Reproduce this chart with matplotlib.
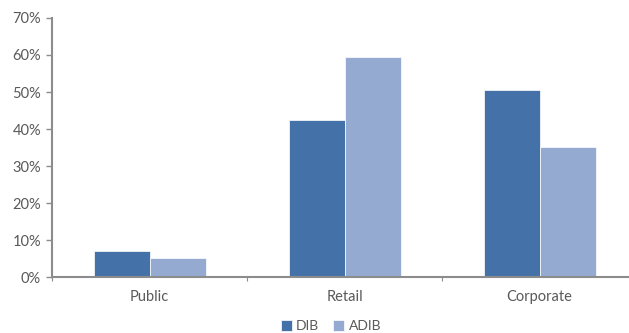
import numpy as np
import matplotlib.pyplot as plt
from matplotlib.ticker import FuncFormatter

categories = ['Public', 'Retail', 'Corporate']
dib = [7.0, 42.5, 50.6]
adib = [5.2, 59.5, 35.2]

c_dib = '#4472a8'
c_adib = '#95aad0'
grey = '#8c8c8c'
txt = '#595959'

plt.rcParams['font.family'] = ['Lato', 'DejaVu Sans']

fig = plt.figure(figsize=(6.29, 3.33), dpi=100)
# the plot area runs slightly past the right edge, as in the source
ax = fig.add_axes([0.083, 0.168, 0.93, 0.778])

x = np.arange(len(categories))
w = 0.287
ax.bar(x - w / 2, dib, w, color=c_dib, edgecolor='white', linewidth=0.5, label='DIB')
ax.bar(x + w / 2, adib, w, color=c_adib, edgecolor='white', linewidth=0.5, label='ADIB')

ax.set_xlim(-0.5, 2.5)
ax.set_ylim(0, 70)
ax.set_yticks(np.arange(0, 71, 10))
ax.yaxis.set_major_formatter(FuncFormatter(lambda v, p: f'{v:.0f}%'))

# category labels in the middle, boundary tick marks
ax.set_xticks([-0.5, 0.5, 1.5, 2.5])
ax.set_xticklabels([])
ax.set_xticks(x, minor=True)
ax.set_xticklabels(categories, minor=True)
ax.tick_params(axis='x', which='minor', length=0, pad=9, labelsize=10.5, labelcolor=txt)
ax.tick_params(axis='x', which='major', length=3, color=grey, width=0.8)
ax.tick_params(axis='y', length=4, color=grey, width=1, labelsize=10.5, labelcolor=txt, pad=4)

for s in ['top', 'right']:
    ax.spines[s].set_visible(False)
for s in ['left', 'bottom']:
    ax.spines[s].set_color(grey)
    ax.spines[s].set_linewidth(1.5)

handles, labels = ax.get_legend_handles_labels()
fig.legend(handles, labels, loc='lower center', bbox_to_anchor=(331 / 629, -0.035),
           ncol=2, frameon=False, fontsize=10, labelcolor=txt,
           handlelength=0.8, handleheight=0.8, handletextpad=0.3, columnspacing=1.0)

fig.savefig('out.png', dpi=100)
